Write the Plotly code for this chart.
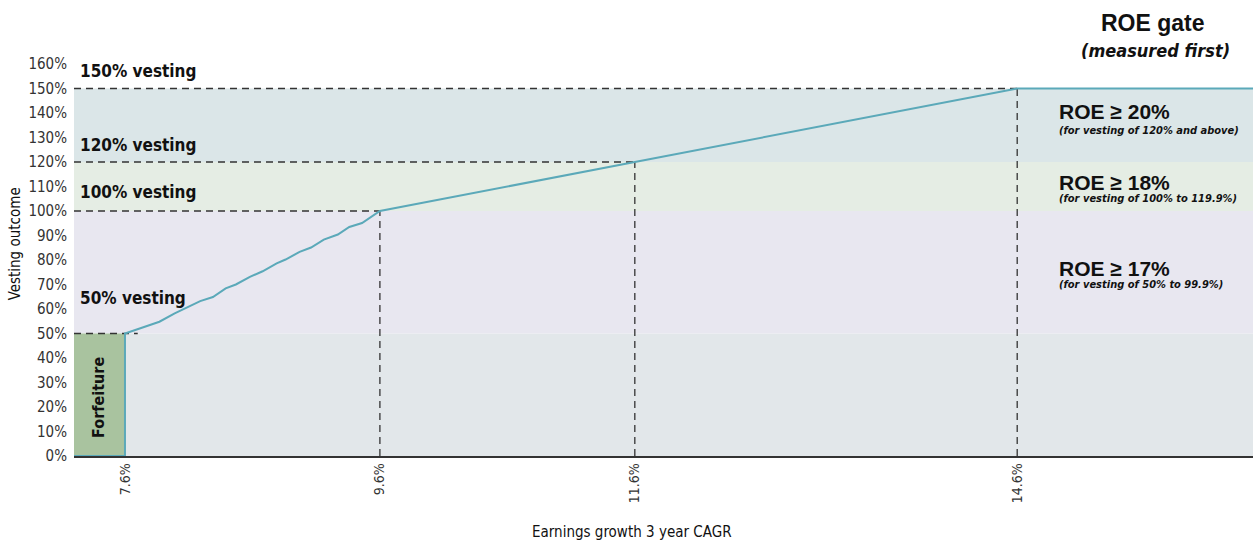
import plotly.graph_objects as go

# Earnings growth (3 year CAGR, %) vs vesting outcome (%)
growth = [7.2, 7.6, 7.6, 7.72, 7.81, 7.87, 7.99, 8.19, 8.29, 8.39, 8.47, 8.58, 8.68,
          8.79, 8.86, 8.97, 9.06, 9.16, 9.27, 9.36, 9.46, 9.6, 11.6, 14.6, 16.45]
vesting = [0, 0, 50, 52.1, 53.5, 54.8, 58.2, 63.2, 64.9, 68.4, 70.0, 73.1, 75.4,
           78.6, 80.2, 83.3, 85.1, 88.3, 90.4, 93.5, 95.1, 100, 120, 150, 150]

# Threshold points marked with dashed guide lines
threshold_x = [7.6, 9.6, 11.6, 14.6]
threshold_y = [50, 100, 120, 150]
tick_text = ["7.6%", "9.6%", "11.6%", "14.6%"]

# ROE gate bands: (low, high, colour)
bands = [(50, 100, "#e8e7f0"), (100, 120, "#e5ede4"), (120, 150, "#dbe6e8")]
base_band_color = "#e2e7ea"
forfeit_color = "#a9c39f"

roe_labels = ["ROE \u2265 20%", "ROE \u2265 18%", "ROE \u2265 17%"]
roe_notes = ["(for vesting of 120% and above)", "(for vesting of 100% to 119.9%)",
             "(for vesting of 50% to 99.9%)"]
roe_label_y = [140.8, 111.8, 76.7]
roe_note_y = [132.7, 104.9, 69.8]

vest_labels = ["150% vesting", "120% vesting", "100% vesting", "50% vesting"]
vest_label_y = [157.1, 126.9, 107.8, 64.5]

X_MIN, X_MAX = 7.2, 16.45
Y_MIN, Y_MAX = 0, 160

COND = "Liberation Sans Narrow, DejaVu Sans Condensed, Arial Narrow, sans-serif"
REG = "Liberation Sans, Arial, Helvetica, sans-serif"
LINE = "#5ba9b9"
DASH = "#333333"
INK = "#111111"

fig = go.Figure()

shapes = []
# band below 50% starts at the forfeiture edge
shapes.append(dict(type="rect", xref="x", yref="y", x0=threshold_x[0], x1=X_MAX,
                   y0=0, y1=50, fillcolor=base_band_color, line_width=0, layer="below"))
for lo, hi, col in bands:
    shapes.append(dict(type="rect", xref="x", yref="y", x0=X_MIN, x1=X_MAX,
                       y0=lo, y1=hi, fillcolor=col, line_width=0, layer="below"))
shapes.append(dict(type="rect", xref="x", yref="y", x0=X_MIN, x1=threshold_x[0],
                   y0=0, y1=50, fillcolor=forfeit_color, line_width=0, layer="below"))

for tx, ty in zip(threshold_x, threshold_y):
    hx = tx + 0.1 if tx == threshold_x[0] else tx
    shapes.append(dict(type="line", xref="x", yref="y", x0=X_MIN, x1=hx, y0=ty, y1=ty,
                       line=dict(color=DASH, width=1.3, dash="7px,5px"), layer="below"))
    if tx != threshold_x[0]:
        shapes.append(dict(type="line", xref="x", yref="y", x0=tx, x1=tx, y0=0, y1=ty,
                           line=dict(color=DASH, width=1.3, dash="7px,5px"), layer="below"))

fig.add_trace(go.Scatter(x=growth, y=vesting, mode="lines",
                         line=dict(color=LINE, width=2), hoverinfo="skip",
                         showlegend=False, cliponaxis=False))

ann = []
for txt, yy in zip(vest_labels, vest_label_y):
    ann.append(dict(x=7.235, y=yy, xref="x", yref="y", text=f"<b>{txt}</b>",
                    showarrow=False, xanchor="left", yanchor="middle",
                    font=dict(family=COND, size=17, color=INK)))
for txt, yy in zip(roe_labels, roe_label_y):
    ann.append(dict(x=14.91, y=yy, xref="x", yref="y", text=f"<b>{txt}</b>",
                    showarrow=False, xanchor="left", yanchor="middle",
                    font=dict(family=REG, size=21, color=INK)))
for txt, yy in zip(roe_notes, roe_note_y):
    ann.append(dict(x=14.91, y=yy, xref="x", yref="y", text=f"<b><i>{txt}</i></b>",
                    showarrow=False, xanchor="left", yanchor="middle",
                    font=dict(family=COND, size=11, color=INK)))
# gate header sits above the plotting area
ann.append(dict(x=0.915, y=1.1046, xref="paper", yref="paper", text="<b>ROE gate</b>",
                showarrow=False, xanchor="center", yanchor="middle",
                font=dict(family=REG, size=23, color=INK)))
ann.append(dict(x=0.917, y=1.0332, xref="paper", yref="paper",
                text="<b><i>(measured first)</i></b>",
                showarrow=False, xanchor="center", yanchor="middle",
                font=dict(family=COND, size=18, color=INK)))
ann.append(dict(x=7.396, y=24.1, xref="x", yref="y", text="<b>Forfeiture</b>",
                showarrow=False, textangle=-90, xanchor="center", yanchor="middle",
                font=dict(family=COND, size=16, color=INK)))
ann.append(dict(x=-0.05, y=0.54, xref="paper", yref="paper", text="Vesting outcome",
                showarrow=False, textangle=-90, xanchor="center", yanchor="middle",
                font=dict(family=COND, size=15, color=INK)))
ann.append(dict(x=0.473, y=-0.195, xref="paper", yref="paper",
                text="Earnings growth 3 year CAGR", showarrow=False,
                xanchor="center", yanchor="middle",
                font=dict(family=COND, size=15, color=INK)))

fig.update_layout(
    width=1253, height=543,
    margin=dict(l=74, r=0, t=64, b=87),
    paper_bgcolor="white", plot_bgcolor="white",
    shapes=shapes, annotations=ann,
    xaxis=dict(range=[X_MIN, X_MAX], tickvals=threshold_x, ticktext=tick_text,
               tickangle=-90, showgrid=False, zeroline=False, showline=True,
               linecolor="#333333", linewidth=1.5, ticks="", layer="below traces",
               tickfont=dict(family=COND, size=14, color="#333333")),
    yaxis=dict(range=[Y_MIN, Y_MAX], dtick=10, ticksuffix="%", showgrid=False,
               zeroline=False, showline=False, ticks="", ticklabelstandoff=6,
               tickfont=dict(family=COND, size=15, color="#333333")),
)

fig.write_html("out.html")
